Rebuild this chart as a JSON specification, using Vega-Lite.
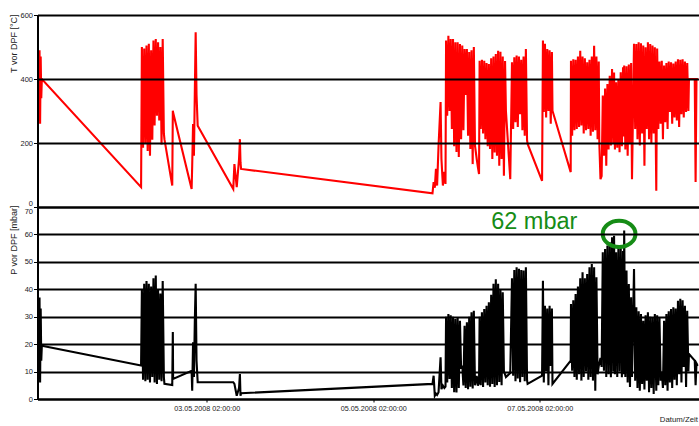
{
  "$schema": "https://vega.github.io/schema/vega-lite/v6.json",
  "background": "white",
  "padding": {"left": 9.5, "top": 11, "right": 0, "bottom": 0},
  "spacing": 0,
  "bounds": "flush",
  "config": {
    "view": {"stroke": null},
    "font": "Liberation Sans",
    "axis": {"domainColor": "#000", "domainWidth": 2, "tickColor": "#000", "gridColor": "#000", "gridWidth": 2, "gridOpacity": 1, "labelColor": "#222", "labelFontSize": 7.5, "titleColor": "#222", "titleFontWeight": "normal", "labelFlush": false}
  },
  "data": {"values": [
    {"t":"2008-05-01T01:20","T":240,"P":5},
    {"t":"2008-05-01T01:30","T":480,"P":36},
    {"t":"2008-05-01T01:40","T":300,"P":10},
    {"t":"2008-05-01T01:50","T":490,"P":37},
    {"t":"2008-05-01T02:00","T":260,"P":6},
    {"t":"2008-05-01T02:10","T":470,"P":33},
    {"t":"2008-05-01T02:20","T":340,"P":14},
    {"t":"2008-05-01T02:30","T":400,"P":19.4},
    {"t":"2008-05-02T07:06","T":62,"P":12.2},
    {"t":"2008-05-02T07:20","T":500,"P":40},
    {"t":"2008-05-02T07:40","T":185,"P":7},
    {"t":"2008-05-02T08:00","T":495,"P":42},
    {"t":"2008-05-02T08:20","T":200,"P":6.5},
    {"t":"2008-05-02T08:40","T":505,"P":43},
    {"t":"2008-05-02T09:00","T":175,"P":7},
    {"t":"2008-05-02T09:20","T":510,"P":42},
    {"t":"2008-05-02T09:40","T":160,"P":6},
    {"t":"2008-05-02T10:00","T":490,"P":41},
    {"t":"2008-05-02T10:20","T":210,"P":8},
    {"t":"2008-05-02T10:40","T":520,"P":44},
    {"t":"2008-05-02T11:00","T":255,"P":6},
    {"t":"2008-05-02T11:20","T":525,"P":45},
    {"t":"2008-05-02T11:40","T":285,"P":5.5},
    {"t":"2008-05-02T12:00","T":515,"P":40},
    {"t":"2008-05-02T12:20","T":270,"P":7},
    {"t":"2008-05-02T12:40","T":500,"P":38.5},
    {"t":"2008-05-02T13:00","T":195,"P":6.5},
    {"t":"2008-05-02T13:20","T":525,"P":43},
    {"t":"2008-05-02T13:40","T":230,"P":8},
    {"t":"2008-05-02T13:50","T":212,"P":5.5},
    {"t":"2008-05-02T16:05","T":67,"P":5.1},
    {"t":"2008-05-02T16:15","T":301,"P":24.4},
    {"t":"2008-05-02T16:20","T":295,"P":7.3},
    {"t":"2008-05-02T21:40","T":56,"P":10.3},
    {"t":"2008-05-02T21:50","T":129,"P":3},
    {"t":"2008-05-02T22:05","T":259,"P":20.7},
    {"t":"2008-05-02T22:20","T":160,"P":8},
    {"t":"2008-05-02T22:35","T":353,"P":28},
    {"t":"2008-05-02T22:50","T":546,"P":42},
    {"t":"2008-05-02T23:05","T":350,"P":14},
    {"t":"2008-05-02T23:25","T":254,"P":6.1},
    {"t":"2008-05-03T09:40","T":56,"P":6.1},
    {"t":"2008-05-03T10:00","T":134,"P":5.5},
    {"t":"2008-05-03T10:40","T":62,"P":1.2},
    {"t":"2008-05-03T11:20","T":150,"P":4},
    {"t":"2008-05-03T11:35","T":212,"P":9.1},
    {"t":"2008-05-03T11:45","T":140,"P":1.2},
    {"t":"2008-05-03T11:55","T":119,"P":2.1},
    {"t":"2008-05-05T19:05","T":43,"P":5.5},
    {"t":"2008-05-05T19:25","T":78,"P":8.5},
    {"t":"2008-05-05T19:45","T":60,"P":1.2},
    {"t":"2008-05-05T20:05","T":119,"P":2},
    {"t":"2008-05-05T20:25","T":67,"P":1.5},
    {"t":"2008-05-05T20:50","T":191,"P":2.5},
    {"t":"2008-05-05T21:25","T":328,"P":15.2},
    {"t":"2008-05-05T21:40","T":150,"P":3.6},
    {"t":"2008-05-05T22:05","T":67,"P":4.9},
    {"t":"2008-05-05T22:30","T":110,"P":4},
    {"t":"2008-05-05T22:50","T":72,"P":4.5},
    {"t":"2008-05-05T23:00","T":520,"P":30},
    {"t":"2008-05-05T23:20","T":285,"P":6},
    {"t":"2008-05-05T23:40","T":535,"P":31},
    {"t":"2008-05-06T00:00","T":300,"P":7.3},
    {"t":"2008-05-06T00:20","T":525,"P":30.5},
    {"t":"2008-05-06T00:40","T":244,"P":4},
    {"t":"2008-05-06T01:00","T":525,"P":30},
    {"t":"2008-05-06T01:20","T":190,"P":2.5},
    {"t":"2008-05-06T01:40","T":515,"P":29.2},
    {"t":"2008-05-06T02:00","T":172,"P":2.4},
    {"t":"2008-05-06T02:20","T":515,"P":29.5},
    {"t":"2008-05-06T02:40","T":156,"P":4},
    {"t":"2008-05-06T03:00","T":509,"P":28.5},
    {"t":"2008-05-06T03:20","T":212,"P":11},
    {"t":"2008-05-06T03:40","T":505,"P":12.2},
    {"t":"2008-05-06T04:00","T":240,"P":4.9},
    {"t":"2008-05-06T04:20","T":494,"P":26.7},
    {"t":"2008-05-06T04:40","T":350,"P":4},
    {"t":"2008-05-06T05:00","T":494,"P":28},
    {"t":"2008-05-06T05:20","T":223,"P":3.6},
    {"t":"2008-05-06T05:40","T":484,"P":30},
    {"t":"2008-05-06T06:00","T":181,"P":4.5},
    {"t":"2008-05-06T06:20","T":490,"P":31.6},
    {"t":"2008-05-06T06:40","T":134,"P":3.8},
    {"t":"2008-05-06T07:00","T":500,"P":32.2},
    {"t":"2008-05-06T07:20","T":192,"P":5},
    {"t":"2008-05-06T07:50","T":150,"P":8.4},
    {"t":"2008-05-06T08:10","T":125,"P":4.9},
    {"t":"2008-05-06T08:30","T":103,"P":6},
    {"t":"2008-05-06T08:40","T":457,"P":30},
    {"t":"2008-05-06T09:00","T":244,"P":5},
    {"t":"2008-05-06T09:20","T":460,"P":31.6},
    {"t":"2008-05-06T09:40","T":230,"P":4.4},
    {"t":"2008-05-06T10:00","T":457,"P":32.8},
    {"t":"2008-05-06T10:20","T":212,"P":6},
    {"t":"2008-05-06T10:40","T":450,"P":34},
    {"t":"2008-05-06T11:00","T":190,"P":5},
    {"t":"2008-05-06T11:20","T":447,"P":35.3},
    {"t":"2008-05-06T11:40","T":181,"P":4.5},
    {"t":"2008-05-06T12:00","T":465,"P":38},
    {"t":"2008-05-06T12:20","T":150,"P":5.5},
    {"t":"2008-05-06T12:40","T":470,"P":42},
    {"t":"2008-05-06T13:00","T":170,"P":4.4},
    {"t":"2008-05-06T13:20","T":478,"P":43.7},
    {"t":"2008-05-06T13:40","T":160,"P":5},
    {"t":"2008-05-06T14:00","T":488,"P":42},
    {"t":"2008-05-06T14:20","T":129,"P":6.2},
    {"t":"2008-05-06T14:40","T":485,"P":40},
    {"t":"2008-05-06T15:00","T":150,"P":5},
    {"t":"2008-05-06T15:20","T":470,"P":38.9},
    {"t":"2008-05-06T15:40","T":98,"P":10},
    {"t":"2008-05-06T16:00","T":456,"P":9},
    {"t":"2008-05-06T16:15","T":300,"P":8},
    {"t":"2008-05-06T17:30","T":87,"P":9.5},
    {"t":"2008-05-06T18:00","T":452,"P":44},
    {"t":"2008-05-06T18:20","T":244,"P":8.5},
    {"t":"2008-05-06T18:40","T":468,"P":47},
    {"t":"2008-05-06T19:00","T":265,"P":6.5},
    {"t":"2008-05-06T19:20","T":473,"P":48},
    {"t":"2008-05-06T19:40","T":250,"P":7.5},
    {"t":"2008-05-06T20:00","T":470,"P":47.5},
    {"t":"2008-05-06T20:20","T":290,"P":6.1},
    {"t":"2008-05-06T20:40","T":460,"P":47},
    {"t":"2008-05-06T21:00","T":240,"P":8},
    {"t":"2008-05-06T21:20","T":470,"P":46.8},
    {"t":"2008-05-06T21:40","T":223,"P":6.5},
    {"t":"2008-05-06T22:00","T":494,"P":48},
    {"t":"2008-05-06T22:20","T":210,"P":7},
    {"t":"2008-05-06T22:30","T":197,"P":5.5},
    {"t":"2008-05-07T02:40","T":82,"P":8.5},
    {"t":"2008-05-07T02:55","T":520,"P":43.1},
    {"t":"2008-05-07T03:10","T":297,"P":6},
    {"t":"2008-05-07T03:30","T":510,"P":34},
    {"t":"2008-05-07T03:50","T":280,"P":10},
    {"t":"2008-05-07T04:10","T":494,"P":33},
    {"t":"2008-05-07T04:30","T":300,"P":5},
    {"t":"2008-05-07T04:50","T":490,"P":34},
    {"t":"2008-05-07T05:10","T":260,"P":12},
    {"t":"2008-05-07T05:30","T":484,"P":33},
    {"t":"2008-05-07T05:40","T":301,"P":5.5},
    {"t":"2008-05-07T10:55","T":109,"P":14},
    {"t":"2008-05-07T11:00","T":457,"P":34.6},
    {"t":"2008-05-07T11:20","T":223,"P":10.3},
    {"t":"2008-05-07T11:40","T":462,"P":36},
    {"t":"2008-05-07T12:00","T":240,"P":8},
    {"t":"2008-05-07T12:20","T":460,"P":38.3},
    {"t":"2008-05-07T12:40","T":244,"P":7},
    {"t":"2008-05-07T13:00","T":470,"P":41},
    {"t":"2008-05-07T13:20","T":250,"P":9},
    {"t":"2008-05-07T13:40","T":488,"P":44},
    {"t":"2008-05-07T14:00","T":255,"P":6.7},
    {"t":"2008-05-07T14:20","T":470,"P":46.2},
    {"t":"2008-05-07T14:40","T":230,"P":8},
    {"t":"2008-05-07T15:00","T":465,"P":44},
    {"t":"2008-05-07T15:20","T":240,"P":10},
    {"t":"2008-05-07T15:40","T":452,"P":45.6},
    {"t":"2008-05-07T16:00","T":244,"P":7},
    {"t":"2008-05-07T16:20","T":460,"P":48},
    {"t":"2008-05-07T16:40","T":223,"P":8},
    {"t":"2008-05-07T17:00","T":470,"P":49.2},
    {"t":"2008-05-07T17:20","T":235,"P":6.7},
    {"t":"2008-05-07T17:40","T":504,"P":48},
    {"t":"2008-05-07T18:00","T":240,"P":3},
    {"t":"2008-05-07T18:20","T":470,"P":44.4},
    {"t":"2008-05-07T18:40","T":212,"P":9},
    {"t":"2008-05-07T19:00","T":455,"P":12},
    {"t":"2008-05-07T19:10","T":200,"P":13},
    {"t":"2008-05-07T19:30","T":87,"P":15},
    {"t":"2008-05-07T19:50","T":97,"P":11.7},
    {"t":"2008-05-07T20:10","T":348,"P":53.5},
    {"t":"2008-05-07T20:30","T":160,"P":10.3},
    {"t":"2008-05-07T20:50","T":370,"P":54.7},
    {"t":"2008-05-07T21:10","T":129,"P":8},
    {"t":"2008-05-07T21:30","T":384,"P":56},
    {"t":"2008-05-07T21:50","T":180,"P":9},
    {"t":"2008-05-07T22:10","T":410,"P":57.1},
    {"t":"2008-05-07T22:30","T":192,"P":7.9},
    {"t":"2008-05-07T22:50","T":431,"P":59},
    {"t":"2008-05-07T23:10","T":200,"P":10},
    {"t":"2008-05-07T23:25","T":420,"P":59.5},
    {"t":"2008-05-07T23:40","T":180,"P":9},
    {"t":"2008-05-08T00:00","T":390,"P":53.5},
    {"t":"2008-05-08T00:20","T":185,"P":8},
    {"t":"2008-05-08T00:40","T":400,"P":55.3},
    {"t":"2008-05-08T01:00","T":171,"P":10},
    {"t":"2008-05-08T01:20","T":421,"P":55.9},
    {"t":"2008-05-08T01:40","T":190,"P":7.9},
    {"t":"2008-05-08T02:00","T":437,"P":54},
    {"t":"2008-05-08T02:10","T":220,"P":9},
    {"t":"2008-05-08T02:20","T":442,"P":61.4},
    {"t":"2008-05-08T02:40","T":180,"P":8},
    {"t":"2008-05-08T03:00","T":440,"P":46.8},
    {"t":"2008-05-08T03:20","T":160,"P":6},
    {"t":"2008-05-08T03:40","T":445,"P":41.9},
    {"t":"2008-05-08T04:00","T":200,"P":4.4},
    {"t":"2008-05-08T04:20","T":450,"P":37.1},
    {"t":"2008-05-08T04:35","T":87,"P":8},
    {"t":"2008-05-08T05:10","T":510,"P":47.4},
    {"t":"2008-05-08T05:30","T":244,"P":6.7},
    {"t":"2008-05-08T05:50","T":509,"P":33.4},
    {"t":"2008-05-08T06:10","T":212,"P":4},
    {"t":"2008-05-08T06:30","T":515,"P":32},
    {"t":"2008-05-08T06:50","T":192,"P":3},
    {"t":"2008-05-08T07:10","T":512,"P":31},
    {"t":"2008-05-08T07:30","T":230,"P":5.5},
    {"t":"2008-05-08T07:50","T":505,"P":28.5},
    {"t":"2008-05-08T08:10","T":129,"P":3.5},
    {"t":"2008-05-08T08:30","T":499,"P":30.5},
    {"t":"2008-05-08T08:50","T":244,"P":6.7},
    {"t":"2008-05-08T09:10","T":515,"P":31.6},
    {"t":"2008-05-08T09:30","T":212,"P":2.5},
    {"t":"2008-05-08T09:50","T":509,"P":30},
    {"t":"2008-05-08T10:10","T":200,"P":4},
    {"t":"2008-05-08T10:30","T":505,"P":29.8},
    {"t":"2008-05-08T10:50","T":230,"P":1.8},
    {"t":"2008-05-08T11:10","T":499,"P":31},
    {"t":"2008-05-08T11:35","T":51,"P":3},
    {"t":"2008-05-08T11:50","T":495,"P":30.5},
    {"t":"2008-05-08T12:10","T":244,"P":5},
    {"t":"2008-05-08T12:30","T":455,"P":29.8},
    {"t":"2008-05-08T12:50","T":260,"P":6.7},
    {"t":"2008-05-08T13:10","T":457,"P":10},
    {"t":"2008-05-08T13:30","T":212,"P":4},
    {"t":"2008-05-08T13:50","T":442,"P":28.5},
    {"t":"2008-05-08T14:10","T":265,"P":5},
    {"t":"2008-05-08T14:30","T":450,"P":31},
    {"t":"2008-05-08T14:50","T":244,"P":3},
    {"t":"2008-05-08T15:10","T":455,"P":32},
    {"t":"2008-05-08T15:30","T":297,"P":6},
    {"t":"2008-05-08T15:50","T":452,"P":32.8},
    {"t":"2008-05-08T16:10","T":260,"P":4},
    {"t":"2008-05-08T16:30","T":448,"P":33.4},
    {"t":"2008-05-08T16:50","T":280,"P":7},
    {"t":"2008-05-08T17:10","T":455,"P":33},
    {"t":"2008-05-08T17:30","T":270,"P":5},
    {"t":"2008-05-08T17:50","T":462,"P":35.8},
    {"t":"2008-05-08T18:10","T":250,"P":9},
    {"t":"2008-05-08T18:30","T":460,"P":36.5},
    {"t":"2008-05-08T18:50","T":290,"P":6},
    {"t":"2008-05-08T19:10","T":462,"P":36},
    {"t":"2008-05-08T19:30","T":280,"P":11.7},
    {"t":"2008-05-08T19:50","T":455,"P":34},
    {"t":"2008-05-08T20:10","T":297,"P":4.4},
    {"t":"2008-05-08T20:30","T":450,"P":32.2},
    {"t":"2008-05-08T20:50","T":300,"P":10},
    {"t":"2008-05-08T21:00","T":400,"P":16.4},
    {"t":"2008-05-08T22:40","T":400,"P":14},
    {"t":"2008-05-08T22:55","T":78,"P":5},
    {"t":"2008-05-08T23:10","T":400,"P":13},
    {"t":"2008-05-08T23:35","T":400,"P":12}
  ]},
  "vconcat": [
    {
      "width": 661,
      "height": 192,
      "mark": {"type": "line", "color": "#ff0000", "strokeWidth": 2.1, "clip": true},
      "encoding": {
        "x": {"field": "t", "type": "temporal", "scale": {"domain": [{"year": 2008, "month": 5, "date": 1, "hours": 1, "minutes": 15}, {"year": 2008, "month": 5, "date": 8, "hours": 23, "minutes": 45}]}, "axis": null},
        "y": {"field": "T", "type": "quantitative", "scale": {"domain": [0, 600]},
          "axis": {"values": [0, 200, 400, 600], "tickCount": 10, "grid": true, "zindex": 1, "tickSize": 4, "labelPadding": 1,
            "labelBaseline": {"condition": {"test": "datum.value == 0", "value": "bottom"}, "value": "middle"},
            "title": "T vor DPF [°C]", "titleFontSize": 9, "titleAngle": 270, "titleAlign": "right", "titleBaseline": "middle", "titleX": -24, "titleY": -1}}
      }
    },
    {
      "width": 661,
      "height": 192,
      "layer": [
        {
          "mark": {"type": "line", "color": "#000000", "strokeWidth": 2.1, "clip": true},
          "encoding": {
            "x": {"field": "t", "type": "temporal", "scale": {"domain": [{"year": 2008, "month": 5, "date": 1, "hours": 1, "minutes": 15}, {"year": 2008, "month": 5, "date": 8, "hours": 23, "minutes": 45}]},
              "axis": {"values": [{"year": 2008, "month": 5, "date": 3, "hours": 2}, {"year": 2008, "month": 5, "date": 5, "hours": 2}, {"year": 2008, "month": 5, "date": 7, "hours": 2}],
                "tickCount": 10, "format": "%d.%m.%Y %H:%M:%S", "grid": false, "tickSize": 3, "labelPadding": 2, "labelFontSize": 7.2, "labelAngle": 0,
                "title": "Datum/Zeit", "titleFontSize": 7.8, "titleAlign": "right", "titleBaseline": "middle", "titleX": 660, "titleY": 20}},
            "y": {"field": "P", "type": "quantitative", "scale": {"domain": [0, 70]},
              "axis": {"values": [0, 10, 20, 30, 40, 50, 60, 70], "tickCount": 10, "grid": true, "zindex": 1, "tickSize": 4, "labelPadding": 1, "labelOverlap": false,
                "labelBaseline": {"condition": {"test": "datum.value == 70", "value": "top"}, "value": "middle"},
                "title": "P vor DPF [mbar]", "titleFontSize": 9, "titleAngle": 270, "titleAlign": "right", "titleBaseline": "middle", "titleX": -24, "titleY": -2}}
          }
        },
        {
          "data": {"values": [{"t": "2008-05-06T12:00", "P": 62, "label": "62 mbar"}]},
          "mark": {"type": "text", "color": "#168c16", "fontSize": 23.5, "align": "left", "baseline": "alphabetic"},
          "encoding": {
            "x": {"field": "t", "type": "temporal"},
            "y": {"field": "P", "type": "quantitative"},
            "text": {"field": "label"}
          }
        },
        {
          "data": {"values": [{"t": "2008-05-08T00:52", "P": 60.2}]},
          "mark": {"type": "point", "shape": "M-1,0A1,0.8,0,1,1,1,0A1,0.8,0,1,1,-1,0Z", "size": 1070, "filled": false, "stroke": "#168c16", "strokeWidth": 4, "opacity": 1},
          "encoding": {
            "x": {"field": "t", "type": "temporal"},
            "y": {"field": "P", "type": "quantitative"}
          }
        }
      ]
    }
  ]
}
